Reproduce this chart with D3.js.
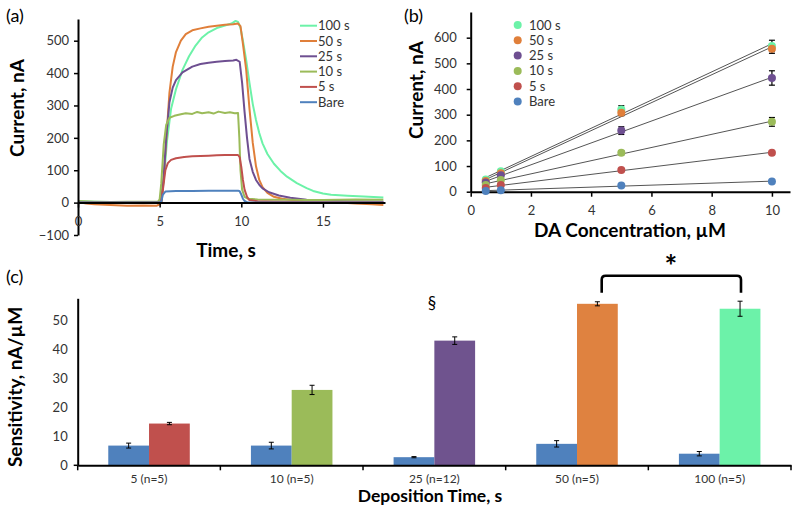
<!DOCTYPE html>
<html><head><meta charset="utf-8">
<script src="https://cdn.jsdelivr.net/npm/d3@7"></script>
<style>body{margin:0;background:#fff} text{font-family:Lato,"Open Sans",sans-serif}</style>
</head><body><svg id="c" width="800" height="517"></svg>
<script>
// ---------- shared series ----------
const seriesNames = ["100 s","50 s","25 s","10 s","5 s","Bare"];
const seriesColors = ["#6CF2A8","#E07F3A","#6E4F91","#9BBB59","#C0504D","#4F81BD"];

// ---------- panel (a): current vs time [t (s), current (nA)] ----------
const trace100 = [[0,4],[1,3],[2,2],[3,2],[4,2],[5,2],[5.1,3],[5.25,70],[5.45,190],[5.7,290],[6.0,350],[6.4,410],[6.8,452],[7.2,485],[7.6,510],[8.0,526],[8.5,539],[9.0,547],[9.4,553],[9.65,561],[9.8,558],[9.95,540],[10.1,500],[10.3,440],[10.5,370],[10.7,305],[10.9,255],[11.1,215],[11.3,183],[11.6,150],[12.0,120],[12.4,98],[12.8,80],[13.4,60],[14.0,45],[14.4,36],[15.0,28],[15.5,24],[16.5,21],[17.5,19],[18.7,16]];
const trace50 = [[0,2],[0.5,-3],[1,-5],[2,-7],[3,-10],[4,-9],[4.8,-10],[5.0,-5],[5.1,0],[5.25,80],[5.4,190],[5.6,340],[5.8,420],[6.0,465],[6.3,500],[6.6,520],[7.0,532],[7.5,538],[8.0,543],[8.5,546],[9.0,549],[9.5,551],[9.8,553],[9.95,545],[10.1,490],[10.3,410],[10.5,290],[10.7,185],[10.9,112],[11.1,70],[11.3,48],[11.6,30],[12.0,18],[12.5,12],[13,9],[14,6],[15,3],[16,0],[17,-3],[18,-5],[18.7,-7]];
const trace25 = [[0,0],[5,0],[5.1,2],[5.25,80],[5.4,200],[5.6,310],[5.8,355],[6.0,378],[6.4,402],[7.0,420],[7.5,428],[8.0,432],[8.5,435],[9.0,437],[9.5,439],[9.7,441],[9.9,435],[10.05,370],[10.2,280],[10.35,200],[10.5,135],[10.7,95],[10.9,70],[11.1,55],[11.3,44],[11.7,32],[12.3,22],[13.0,15],[14,9],[15,6],[16.5,4],[18.7,3]];
const trace10 = [[0,5],[1,3],[2,2],[3,3],[4,3],[4.9,3],[5.0,10],[5.1,60],[5.25,180],[5.4,240],[5.6,262],[5.9,268],[6.3,273],[6.6,276],[7.0,274],[7.3,280],[7.6,276],[8.0,279],[8.3,275],[8.6,281],[9.0,277],[9.3,279],[9.6,276],[9.8,277],[9.88,200],[9.95,100],[10.05,40],[10.2,18],[10.4,12],[11,10],[12,9],[13,9],[14,8],[15,8],[16,9],[17,10],[18.7,9]];
const trace5 = [[0,0],[5.0,0],[5.1,5],[5.2,40],[5.35,100],[5.5,122],[5.7,132],[6.0,137],[6.5,141],[7,143],[7.5,144],[8,145],[8.5,146],[9,147],[9.5,147],[9.8,147],[9.9,140],[10.0,110],[10.1,70],[10.2,40],[10.35,18],[10.5,8],[11,4],[12,3],[14,2],[16,2],[18.7,1]];
const traceBare = [[0,0],[5.0,0],[5.1,3],[5.2,25],[5.35,34],[6,36],[7,36],[8,37],[9,37],[9.8,37],[9.9,35],[10.0,25],[10.1,12],[10.2,5],[10.4,0],[18.7,0]];
const tracesA = [trace100,trace50,trace25,trace10,trace5,traceBare];
const ticksAx = [0,5,10,15];
const ticksAy = [-100,0,100,200,300,400,500];

// ---------- panel (b): calibration ----------
const concX = [0.5,1,5,10];
const cur100 = [48,80,320,568], err100 = [3,4,15,22];
const cur50  = [42,72,308,557], err50  = [3,4,12,18];
const cur25  = [36,64,238,443], err25  = [3,4,15,28];
const cur10  = [26,46,152,272], err10  = [2,3,8,17];
const cur5   = [14,26,85,152],  err5   = [1,2,4,5];
const curBare= [3,6,24,40],     errBare= [1,1,2,6];
const curB = [cur100,cur50,cur25,cur10,cur5,curBare];
const errB = [err100,err50,err25,err10,err5,errBare];
const ticksBx = [0,2,4,6,8,10];
const ticksBy = [0,100,200,300,400,500,600];

// ---------- panel (c): sensitivity ----------
const depCats = ["5 (n=5)","10 (n=5)","25 (n=12)","50 (n=5)","100 (n=5)"];
const sensBare = [6.8,6.8,2.8,7.4,4.0];
const errSensBare = [0.85,1.15,0.2,1.1,0.75];
const sensCoated = [14.4,26.0,43.0,55.7,54.0];
const errSensCoated = [0.4,1.6,1.3,0.7,2.6];
const coatedColors = ["#C0504D","#9BBB59","#6F538E","#DF8240","#6CF2A9"];
const bareColor = "#4F81BD";
const ticksCy = [0,10,20,30,40,50];

const svg = d3.select("#c");
const tickCol = "#333";

// ================= PANEL A =================
const xA = d3.scaleLinear().domain([0,18.8]).range([78,385]);
const yA = d3.scaleLinear().domain([-100,567]).range([235,19]);
const gA = svg.append("g");
gA.append("defs").append("clipPath").attr("id","clipA").append("rect")
  .attr("x",78).attr("y",10).attr("width",307).attr("height",226);
const lineA = d3.line().x(d=>xA(d[0])).y(d=>yA(d[1]));
tracesA.forEach((tr,i)=>{
  gA.append("path").attr("d",lineA(tr)).attr("fill","none")
    .attr("stroke",seriesColors[i]).attr("stroke-width",2).attr("stroke-linejoin","round")
    .attr("clip-path","url(#clipA)");
});
const axAy = gA.append("g").attr("transform",`translate(${xA(0)},0)`)
  .call(d3.axisLeft(yA).tickValues(ticksAy).tickSize(4).tickSizeOuter(0).tickPadding(5));
const axAx = gA.append("g").attr("transform",`translate(0,${yA(0)})`)
  .call(d3.axisBottom(xA).tickValues(ticksAx).tickSize(5).tickSizeOuter(0).tickPadding(9));
[axAy,axAx].forEach(a=>{
  a.select(".domain").attr("stroke","#000").attr("stroke-width",2);
  a.selectAll(".tick line").attr("stroke","#000").attr("stroke-width",1.5);
  a.selectAll("text").attr("fill",tickCol).style("font-size","13px").style("font-family","Lato,'Open Sans',sans-serif");
});
seriesNames.forEach((n,i)=>{
  const y = 25.7 + i*15.3;
  gA.append("line").attr("x1",300).attr("x2",317).attr("y1",y).attr("y2",y)
    .attr("stroke",seriesColors[i]).attr("stroke-width",2);
  gA.append("text").attr("x",318).attr("y",y).attr("dy","0.35em").text(n)
    .attr("fill",tickCol).style("font-size","13px");
});
gA.append("text").attr("x",226).attr("y",257).attr("text-anchor","middle")
  .style("font-weight","bold").style("font-size","19px").text("Time, s");
gA.append("text").attr("transform","translate(24,108) rotate(-90)").attr("text-anchor","middle")
  .style("font-weight","bold").style("font-size","19px").text("Current, nA");
gA.append("text").attr("x",6).attr("y",22).style("font-size","18px").text("(a)");

// ================= PANEL B =================
const xB = d3.scaleLinear().domain([0,10.6]).range([470.7,790]);
const yB = d3.scaleLinear().domain([0,700]).range([191.7,12]);
const gB = svg.append("g");
const axBy = gB.append("g").attr("transform",`translate(${xB(0)},0)`)
  .call(d3.axisLeft(yB).tickValues(ticksBy).tickSize(4).tickSizeOuter(0).tickPadding(10));
const axBx = gB.append("g").attr("transform",`translate(0,${yB(0)})`)
  .call(d3.axisBottom(xB).tickValues(ticksBx).tickSize(5).tickSizeOuter(0).tickPadding(9));
[axBy,axBx].forEach(a=>{
  a.select(".domain").attr("stroke","#000").attr("stroke-width",2);
  a.selectAll(".tick line").attr("stroke","#000").attr("stroke-width",1.5);
  a.selectAll("text").attr("fill",tickCol).style("font-size","13px").style("font-family","Lato,'Open Sans',sans-serif");
});
curB.forEach((ys,i)=>{
  const n = ys.length, mx = d3.mean(concX), my = d3.mean(ys);
  let sxy=0,sxx=0; for(let k=0;k<n;k++){sxy+=(concX[k]-mx)*(ys[k]-my); sxx+=(concX[k]-mx)**2;}
  const m = sxy/sxx, b = my - m*mx;
  const x0 = d3.min(concX), x1 = d3.max(concX);
  gB.append("line").attr("x1",xB(x0)).attr("y1",yB(m*x0+b)).attr("x2",xB(x1)).attr("y2",yB(m*x1+b))
    .attr("stroke","#555").attr("stroke-width",1);
});
for(let i=curB.length-1;i>=0;i--){
  curB[i].forEach((v,k)=>{
    const e = errB[i][k], cx = xB(concX[k]);
    if(e>0){
      gB.append("line").attr("x1",cx).attr("x2",cx).attr("y1",yB(v-e)).attr("y2",yB(v+e)).attr("stroke","#000").attr("stroke-width",1.2);
      [v-e,v+e].forEach(w=>gB.append("line").attr("x1",cx-3).attr("x2",cx+3).attr("y1",yB(w)).attr("y2",yB(w)).attr("stroke","#000").attr("stroke-width",1.2));
    }
  });
}
for(let i=0;i<curB.length;i++){
  curB[i].forEach((v,k)=>{
    gB.append("circle").attr("cx",xB(concX[k])).attr("cy",yB(v)).attr("r",4).attr("fill",seriesColors[i]);
  });
}
seriesNames.forEach((n,i)=>{
  const y = 25 + i*15.3;
  gB.append("circle").attr("cx",517.7).attr("cy",y).attr("r",4).attr("fill",seriesColors[i]);
  gB.append("text").attr("x",529).attr("y",y).attr("dy","0.35em").text(n)
    .attr("fill",tickCol).style("font-size","13px");
});
gB.append("text").attr("x",630).attr("y",237).attr("text-anchor","middle")
  .style("font-weight","bold").style("font-size","19px").text("DA Concentration, µM");
gB.append("text").attr("transform","translate(423,90) rotate(-90)").attr("text-anchor","middle")
  .style("font-weight","bold").style("font-size","19px").text("Current, nA");
gB.append("text").attr("x",404).attr("y",22).style("font-size","18px").text("(b)");

// ================= PANEL C =================
const xC = d3.scaleBand().domain(depCats).range([77.7,791]).padding(0);
const bw = xC.bandwidth();
const xC1 = d3.scaleBand().domain(["bare","coated"]).range([bw*0.75/3.5, bw*2.75/3.5]).padding(0);
const yC = d3.scaleLinear().domain([0,57.6]).range([465.3,298.3]);
const gC = svg.append("g");
depCats.forEach((c,i)=>{
  const groups = [["bare",sensBare[i],errSensBare[i],bareColor],["coated",sensCoated[i],errSensCoated[i],coatedColors[i]]];
  groups.forEach(([k,v,e,col])=>{
    const x = xC(c)+xC1(k), w = xC1.bandwidth();
    gC.append("rect").attr("x",x).attr("y",yC(v)).attr("width",w).attr("height",yC(0)-yC(v)).attr("fill",col);
    const cx = x + w/2;
    gC.append("line").attr("x1",cx).attr("x2",cx).attr("y1",yC(v-e)).attr("y2",yC(v+e)).attr("stroke","#000").attr("stroke-width",1);
    [v-e,v+e].forEach(t=>gC.append("line").attr("x1",cx-2.5).attr("x2",cx+2.5).attr("y1",yC(t)).attr("y2",yC(t)).attr("stroke","#000").attr("stroke-width",1));
  });
});
const axCy = gC.append("g").attr("transform",`translate(${xC.range()[0]},0)`)
  .call(d3.axisLeft(yC).tickValues(ticksCy).tickSize(0).tickSizeOuter(0).tickPadding(10));
const axCx = gC.append("g").attr("transform",`translate(0,${yC(0)})`)
  .call(d3.axisBottom(xC).tickSize(0).tickSizeOuter(0).tickPadding(9));
const bounds = depCats.map(c=>xC(c)).concat([xC.range()[1]]);
bounds.forEach(b=>gC.append("line").attr("x1",b).attr("x2",b).attr("y1",yC(0)).attr("y2",yC(0)+5).attr("stroke","#000").attr("stroke-width",1.5));
gC.append("line").attr("x1",xC.range()[0]-4).attr("x2",xC.range()[0]).attr("y1",yC(0)).attr("y2",yC(0)).attr("stroke","#000").attr("stroke-width",1.5);
axCy.select(".domain").attr("stroke","#000").attr("stroke-width",2);
axCy.selectAll("text").attr("fill",tickCol).style("font-size","13px").style("font-family","Lato,'Open Sans',sans-serif");
axCx.select(".domain").attr("stroke","#000").attr("stroke-width",2);
axCx.selectAll("text").attr("fill",tickCol).style("font-size","12px").style("font-family","Lato,'Open Sans',sans-serif");
gC.append("text").attr("x",430).attr("y",502).attr("text-anchor","middle")
  .style("font-weight","bold").style("font-size","17.5px").text("Deposition Time, s");
gC.append("text").attr("transform","translate(22,387) rotate(-90)").attr("text-anchor","middle")
  .style("font-weight","bold").style("font-size","19px").text("Sensitivity, nA/µM");
gC.append("text").attr("x",6).attr("y",283).style("font-size","18px").text("(c)");
gC.append("text").attr("x",432).attr("y",309).attr("text-anchor","middle").style("font-size","17px").text("§");
const bl = 601.7, br = 741, bt = 275.7, bb = 292.7, r = 4;
gC.append("path").attr("d",`M${bl},${bb} L${bl},${bt+r} Q${bl},${bt} ${bl+r},${bt} L${br-r},${bt} Q${br},${bt} ${br},${bt+r} L${br},${bb}`)
  .attr("fill","none").attr("stroke","#000").attr("stroke-width",2.6);
gC.append("text").attr("x",671).attr("y",277).attr("text-anchor","middle")
  .style("font-size","30px").style("font-weight","bold").text("*");
</script></body></html>
